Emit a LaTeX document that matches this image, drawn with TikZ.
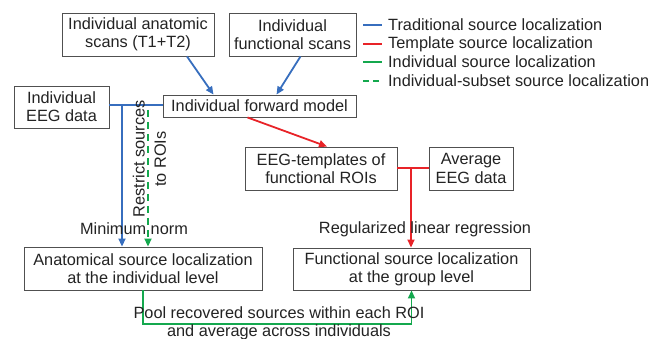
\documentclass[tikz,border=0pt]{standalone}
\usepackage{fontspec}
\setmainfont{Liberation Sans}
\usetikzlibrary{arrows.meta}
\definecolor{cblue}{RGB}{55,110,190}
\definecolor{cred}{RGB}{232,35,40}
\definecolor{cgreen}{RGB}{20,168,78}
\definecolor{ctext}{RGB}{35,35,35}
\definecolor{cbox}{RGB}{80,80,80}
\begin{document}
\begin{tikzpicture}[x=1pt,y=-1pt,
  every node/.style={text=ctext,font=\fontsize{16.3}{18.3}\selectfont,inner sep=0pt},
  boxnode/.style={draw=cbox,line width=0.9pt,align=center,fill=white},
  conn/.style={line width=1.8pt},
  tip/.style={-{Triangle[length=8pt,width=7pt]}},
  lbl/.style={align=center,fill=none}]
\useasboundingbox (0,0) rectangle (659,339);
% boxes
\node[boxnode,minimum width=152pt,minimum height=43pt] (anat) at (138,34.5) {Individual anatomic\\scans (T1+T2)};
\node[boxnode,minimum width=127pt,minimum height=43pt] (func) at (292.5,34.5) {Individual\\functional scans};
\node[boxnode,minimum width=95pt,minimum height=42pt] (eeg) at (61.5,107) {Individual\\EEG data};
\node[boxnode,minimum width=193pt,minimum height=22pt] (fwd) at (259.5,106) {Individual forward model};
\node[boxnode,minimum width=152pt,minimum height=43pt] (tmpl) at (321,168.5) {EEG-templates of\\functional ROIs};
\node[boxnode,minimum width=84pt,minimum height=43pt] (avg) at (471,168.5) {Average\\EEG data};
\node[boxnode,minimum width=238pt,minimum height=43pt] (analoc) at (143,268.5) {Anatomical source localization\\at the individual level};
\node[boxnode,minimum width=237pt,minimum height=42pt] (funloc) at (411.5,269) {Functional source localization\\at the group level};
% blue
\draw[conn,cblue,tip] ([xshift=49pt]anat.south) -- ([xshift=-46pt]fwd.north);
\draw[conn,cblue,tip] ([xshift=8pt]func.south) -- ([xshift=17pt]fwd.north);
\coordinate (bj) at (122,105);
\draw[conn,cblue] (eeg.east |- bj) -- (fwd.west |- bj);
\draw[conn,cblue,tip] (bj) -- (bj |- analoc.north);
% green dashed
\coordinate (gd) at (148,110);
\draw[conn,cgreen,dash pattern=on 7pt off 5pt,tip] (gd) -- (gd |- analoc.north);
% red
\draw[conn,cred,tip] ([xshift=-12pt]fwd.south) -- ([xshift=6pt]tmpl.north);
\coordinate (rj) at (411,168);
\draw[conn,cred] (tmpl.east |- rj) -- (avg.west |- rj);
\draw[conn,cred,tip] (rj) -- (rj |- funloc.north);
% green solid
\coordinate (gb) at (143,324);
\draw[conn,cgreen,tip] (analoc.south) -- (gb) -- (gb -| funloc.south) -- (funloc.south);
% labels
\node[lbl,rotate=90] (restrict) at (149.5,159) {Restrict sources\\[3pt]to ROIs};
\node[lbl] (minnorm) at (134,229) {Minimum norm};
\node[lbl] (regress) at (425,229) {Regularized linear regression};
\node[lbl] (pool) at (279,323) {Pool recovered sources within each ROI\\and average across individuals};
% legend
\foreach \y/\c/\t/\n in {25/cblue/Traditional source localization/la,44/cred/Template source localization/lb,62/cgreen/Individual source localization/lc}{
  \coordinate (\n a) at (363,\y);
  \coordinate (\n b) at (382,\y);
  \draw[line width=1.4pt,\c] (\n a) -- (\n b);
  \node[anchor=west] (\n t) at (388,\y) {\t};
}
\coordinate (lda) at (363,81);
\coordinate (ldb) at (382,81);
\draw[line width=1.4pt,cgreen,dash pattern=on 6pt off 4pt] (lda) -- (ldb);
\node[anchor=west] (ldt) at (388,81) {Individual-subset source localization};
\end{tikzpicture}
\end{document}
